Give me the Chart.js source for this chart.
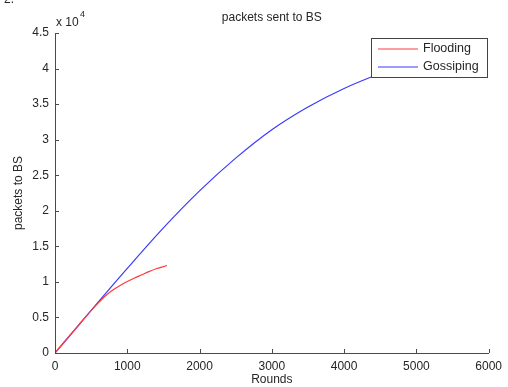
<!DOCTYPE html>
<html>
<head>
<meta charset="utf-8">
<script src="https://cdn.jsdelivr.net/npm/chart.js@4/dist/chart.umd.min.js"></script>
<style>
  html, body { margin: 0; padding: 0; background: #fff; }
  #wrap { width: 508px; height: 387px; position: relative; }
</style>
</head>
<body>
<div id="wrap"><canvas id="c" width="508" height="387"></canvas></div>
<script>
// data
const floodRounds  = [0, 300, 500, 600, 700, 800, 900, 1000, 1100, 1200, 1300, 1400, 1550];
const floodPackets = [0, 3580, 5950, 7050, 8050, 8850, 9500, 10050, 10550, 11000, 11450, 11850, 12300];
const gossipRounds  = [0, 500, 1000, 1500, 2000, 2500, 3000, 3500, 4000, 4500, 5000];
const gossipPackets = [0, 6000, 11900, 17600, 22800, 27400, 31400, 34600, 37200, 39300, 41100];
const seriesNames = ['Flooding', 'Gossiping'];
const xTicks = [0, 1000, 2000, 3000, 4000, 5000, 6000];
const yTicks = [0, 5000, 10000, 15000, 20000, 25000, 30000, 35000, 40000, 45000];

const FONT = 'Liberation Sans, Arial, Helvetica, sans-serif';
const TXT = '#262626';
const AXIS = '#4a4a4a';

function pts(xs, ys) {
  return xs.map((x, i) => ({ x: x, y: ys[i] }));
}

// inward ticks, labels, legend -- matlab look
const figurePlugin = {
  id: 'figure',
  afterDraw(chart) {
    const ctx = chart.ctx;
    const a = chart.chartArea;
    const xs = chart.scales.x, ys = chart.scales.y;
    ctx.save();
    ctx.strokeStyle = AXIS;
    ctx.lineWidth = 1;
    ctx.beginPath();
    xTicks.forEach(v => {
      const p = Math.round(xs.getPixelForValue(v)) + 0.5;
      ctx.moveTo(p, a.bottom);
      ctx.lineTo(p, a.bottom - 4);
    });
    yTicks.forEach(v => {
      const p = Math.round(ys.getPixelForValue(v)) + 0.5;
      ctx.moveTo(a.left, p);
      ctx.lineTo(a.left + 4, p);
    });
    ctx.stroke();

    ctx.fillStyle = TXT;
    ctx.font = '12px ' + FONT;
    ctx.textAlign = 'center';
    ctx.textBaseline = 'middle';
    ctx.fillText('packets sent to BS', (a.left + a.right) / 2, 18);
    ctx.fillText('Rounds', (a.left + a.right) / 2, 380);

    ctx.save();
    ctx.translate(19, (a.top + a.bottom) / 2);
    ctx.rotate(-Math.PI / 2);
    ctx.fillText('packets to BS', 0, 0);
    ctx.restore();

    // exponent
    ctx.textAlign = 'left';
    ctx.fillText('x 10', 56, 23);
    ctx.font = '9px ' + FONT;
    ctx.fillText('4', 80, 15);

    // cut-off panel label at the very top
    ctx.font = '12px ' + FONT;
    ctx.fillText('2.', 4, 0);

    // legend box
    const bx = 371.5, by = 38.5, bw = 116, bh = 39;
    ctx.fillStyle = '#fff';
    ctx.fillRect(bx, by, bw, bh);
    ctx.strokeStyle = '#444';
    ctx.strokeRect(bx, by, bw, bh);
    chart.data.datasets.forEach((ds, i) => {
      const ly = 49 + i * 18;
      ctx.strokeStyle = ds.borderColor;
      ctx.lineWidth = 1.2;
      ctx.beginPath();
      ctx.moveTo(378, ly);
      ctx.lineTo(418, ly);
      ctx.stroke();
      ctx.fillStyle = TXT;
      ctx.font = '12.5px ' + FONT;
      ctx.fillText(ds.label, 423, ly);
    });
    ctx.restore();
  }
};

new Chart(document.getElementById('c'), {
  type: 'line',
  data: {
    datasets: [
      {
        label: seriesNames[0],
        data: pts(floodRounds, floodPackets),
        borderColor: '#ff3a3a',
        borderWidth: 1.2,
        pointRadius: 0,
        cubicInterpolationMode: 'monotone',
        fill: false
      },
      {
        label: seriesNames[1],
        data: pts(gossipRounds, gossipPackets),
        borderColor: '#3a3aff',
        borderWidth: 1.2,
        pointRadius: 0,
        cubicInterpolationMode: 'monotone',
        fill: false
      }
    ]
  },
  options: {
    responsive: false,
    animation: false,
    events: [],
    layout: { padding: { top: 33, right: 14, left: 0, bottom: 0 } },
    plugins: {
      legend: { display: false },
      tooltip: { enabled: false },
      title: { display: false }
    },
    scales: {
      x: {
        type: 'linear',
        min: 0,
        max: 6000,
        afterFit: s => { s.height = 34; },
        afterBuildTicks: s => { s.ticks = xTicks.map(v => ({ value: v })); },
        border: { display: true, color: AXIS, width: 1 },
        grid: { display: false, drawTicks: false },
        ticks: {
          padding: 6,
          maxRotation: 0,
          color: TXT,
          font: { family: FONT, size: 12 },
          callback: v => String(v)
        }
      },
      y: {
        type: 'linear',
        min: 0,
        max: 45000,
        afterFit: s => { s.width = 55; },
        afterBuildTicks: s => { s.ticks = yTicks.map(v => ({ value: v })); },
        border: { display: true, color: AXIS, width: 1 },
        grid: { display: false, drawTicks: false },
        ticks: {
          padding: 6,
          color: TXT,
          font: { family: FONT, size: 12 },
          callback: v => String(v / 10000)
        }
      }
    }
  },
  plugins: [figurePlugin]
});
</script>
</body>
</html>
